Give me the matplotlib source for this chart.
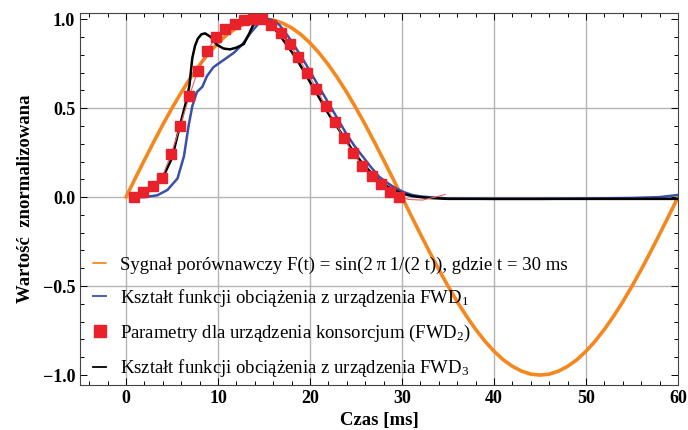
import matplotlib
matplotlib.use("Agg")
import matplotlib.pyplot as plt
from matplotlib.ticker import MultipleLocator

plt.rcParams['font.family'] = ['Liberation Serif', 'DejaVu Serif']
plt.rcParams['mathtext.fontset'] = 'custom'
plt.rcParams['mathtext.rm'] = 'Liberation Serif'
plt.rcParams['mathtext.it'] = 'Liberation Serif:italic'

ref_t = list(range(0, 61))
ref_y = [0.0, 0.105, 0.208, 0.309, 0.407, 0.5, 0.588, 0.669, 0.743, 0.809,
         0.866, 0.914, 0.951, 0.978, 0.995, 1.0, 0.995, 0.978, 0.951, 0.914,
         0.866, 0.809, 0.743, 0.669, 0.588, 0.5, 0.407, 0.309, 0.208, 0.105,
         0.0, -0.105, -0.208, -0.309, -0.407, -0.5, -0.588, -0.669, -0.743, -0.809,
         -0.866, -0.914, -0.951, -0.978, -0.995, -1.0, -0.995, -0.978, -0.951, -0.914,
         -0.866, -0.809, -0.743, -0.669, -0.588, -0.5, -0.407, -0.309, -0.208, -0.105,
         0.0]

# FWD1 (blue)
fwd1_t = [0.5, 2, 3.4, 4.5, 5.6, 6.3, 6.8, 7.2, 7.7, 8.3, 8.8, 9.5, 10.6, 11.7, 12.6,
          13.5, 14.4, 14.9, 15.5, 16.1, 16.7, 17.6, 18.5, 19.4, 20.3, 21.2, 22.1, 23.0,
          23.9, 24.8, 25.7, 26.6, 27.5, 28.4, 29.3, 30.2, 31.1, 32.0, 32.9, 35, 40, 45,
          50, 55, 58, 60]
fwd1_y = [0.0, 0.0, 0.01, 0.04, 0.105, 0.23, 0.40, 0.51, 0.59, 0.62, 0.68, 0.73, 0.77,
          0.81, 0.855, 0.92, 0.975, 0.995, 1.0, 0.99, 0.966, 0.905, 0.835, 0.76, 0.68,
          0.60, 0.52, 0.44, 0.36, 0.29, 0.23, 0.17, 0.115, 0.08, 0.05, 0.028, 0.012,
          0.004, 0.0, -0.008, -0.01, -0.01, -0.008, -0.005, 0.0, 0.012]

# FWD2 (red squares)
fwd2_t = [0.9, 1.9, 2.9, 3.9, 4.9, 5.9, 6.9, 7.8, 8.8, 9.8, 10.8, 11.8, 12.8, 13.8, 14.8,
          15.8, 16.8, 17.8, 18.7, 19.7, 20.7, 21.7, 22.7, 23.7, 24.7, 25.7, 26.7, 27.7,
          28.7, 29.7]
fwd2_y = [0.0, 0.026, 0.062, 0.11, 0.24, 0.40, 0.57, 0.71, 0.82, 0.90, 0.945, 0.97, 0.995,
          1.0, 1.0, 0.966, 0.92, 0.86, 0.785, 0.70, 0.61, 0.51, 0.42, 0.33, 0.245, 0.176,
          0.118, 0.073, 0.03, 0.0]
fwd2_tail_t = [29.7, 30.7, 32.2, 33.6, 34.7]
fwd2_tail_y = [0.0, -0.013, -0.017, 0.0, 0.015]

# FWD3 (black)
fwd3_t = [0.5, 1, 2, 3, 4, 5, 5.9, 6.65, 6.9, 7.2, 7.5, 7.8, 8.2, 8.6, 9.2, 9.9, 10.6,
          11.3, 12.0, 12.8, 13.4, 13.8, 14.5, 15.2, 16.0, 16.7, 17.6, 18.5, 19.4, 20.3,
          21.2, 22.1, 23.0, 23.9, 24.8, 25.7, 26.6, 27.5, 28.4, 29.3, 30.2, 31.1, 32,
          33, 35, 40, 45, 50, 55, 60]
fwd3_y = [0.0, 0.005, 0.025, 0.06, 0.11, 0.22, 0.41, 0.56, 0.63, 0.78, 0.85, 0.89, 0.915,
          0.92, 0.9, 0.855, 0.835, 0.83, 0.84, 0.86, 0.92, 0.965, 1.0, 0.99, 0.955, 0.91,
          0.845, 0.78, 0.70, 0.62, 0.54, 0.46, 0.39, 0.32, 0.25, 0.19, 0.14, 0.095, 0.06,
          0.035, 0.017, 0.006, 0.0, -0.005, -0.01, -0.01, -0.01, -0.01, -0.01, -0.01]

orange = '#f5871f'
blue = '#3a4fa8'
red = '#e8212b'

fig = plt.figure(figsize=(6.88, 4.30), dpi=100)
ax = fig.add_axes([0.1163, 0.105, 0.8692, 0.865])

ax.plot(ref_t, ref_y, color=orange, lw=2.6, solid_capstyle='round',
        label='Sygnał porównawczy F(t) = sin(2\u2009π\u20091/(2 t)), gdzie t = 30 ms')
ax.plot(fwd1_t, fwd1_y, color=blue, lw=1.8,
        label='Kształt funkcji obciążenia z urządzenia FWD$_1$')
ax.plot(fwd3_t, fwd3_y, color='black', lw=1.8, zorder=3)
ax.plot(fwd2_t, fwd2_y, color='#f06060', lw=0.8, zorder=4)
ax.plot(fwd2_tail_t, fwd2_tail_y, color='#f06060', lw=0.8, zorder=4)
ax.plot(fwd2_t, fwd2_y, ls='none', marker='s', ms=6.8, color=red, zorder=5,
        label='Parametry dla urządzenia konsorcjum (FWD$_2$)')
ax.plot([], [], color='black', lw=1.8,
        label='Kształt funkcji obciążenia z urządzenia FWD$_3$')

ax.set_xlim(-5, 60)
ax.set_ylim(-1.055, 1.035)
ax.xaxis.set_major_locator(MultipleLocator(10))
ax.xaxis.set_minor_locator(MultipleLocator(2))
ax.yaxis.set_major_locator(MultipleLocator(0.5))
ax.yaxis.set_minor_locator(MultipleLocator(0.1))
ax.tick_params(which='both', direction='in', top=True, right=True, width=0.7)
ax.tick_params(which='major', length=5, labelsize=13)
ax.tick_params(which='minor', length=3)
for lab in ax.get_xticklabels() + ax.get_yticklabels():
    lab.set_fontweight('bold')
ax.set_yticks([-1.0, -0.5, 0.0, 0.5, 1.0])
ax.set_yticklabels(['\u22121.0', '\u22120.5', '0.0', '0.5', '1.0'], fontweight='bold')

for gx in [0, 10, 20, 30, 40, 50]:
    ax.axvline(gx, color='#b4b4b4', lw=1.0, zorder=0)
for gy in [-0.5, 0.0, 0.5]:
    ax.axhline(gy, color='#b4b4b4', lw=1.0, zorder=0)

for sp in ax.spines.values():
    sp.set_linewidth(0.8)
    sp.set_color('#444444')

ax.set_xlabel('Czas [ms]', fontsize=13.5, fontweight='bold', labelpad=4)
ax.set_ylabel('Wartość  znormalizowana', fontsize=13.5, fontweight='bold', labelpad=6)

leg = ax.legend(loc='lower left', bbox_to_anchor=(0.0, -0.02), frameon=False,
                fontsize=13.5, handlelength=0.7, handletextpad=0.75, labelspacing=0.72,
                markerscale=1.3, borderaxespad=0.3)
for line in leg.get_lines():
    line.set_linewidth(1.3)

fig.savefig('out.png', dpi=100)
